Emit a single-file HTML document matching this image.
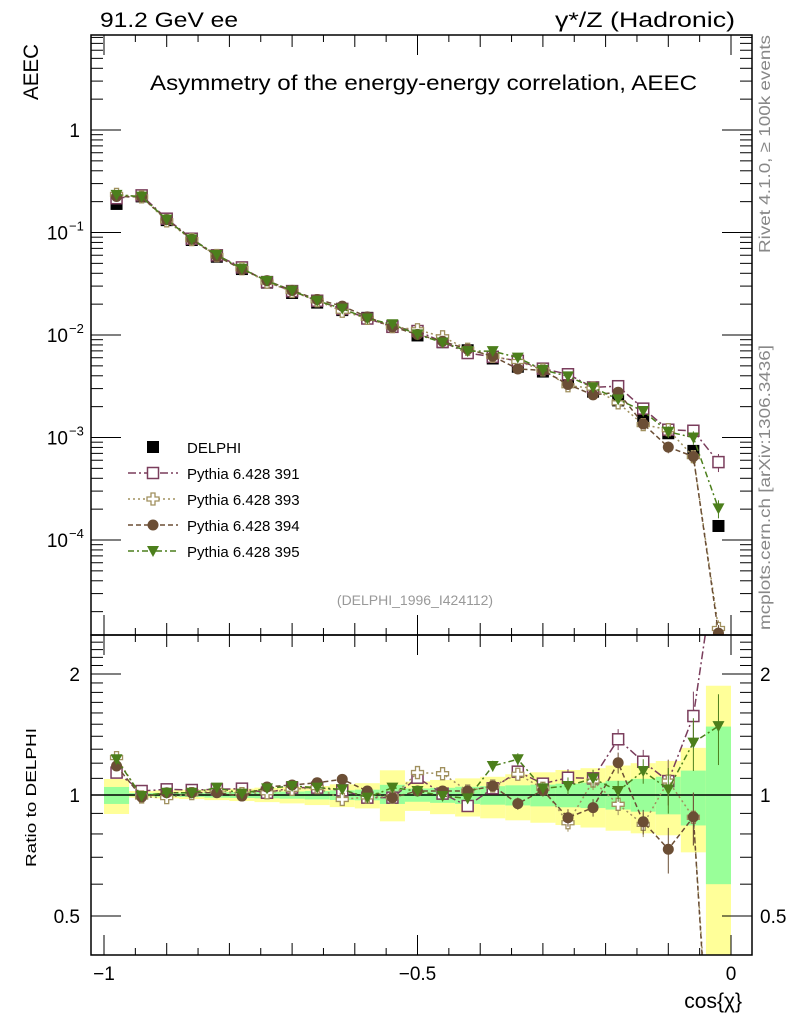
<!DOCTYPE html>
<html><head><meta charset="utf-8"><style>
html,body{margin:0;padding:0;background:#fff;overflow:hidden;width:786px;height:1024px;}
svg{display:block;}
svg text{font-family:"Liberation Sans",sans-serif;}
</style></head><body>
<svg id="c" width="786" height="1024" viewBox="0 0 786 1024" xmlns="http://www.w3.org/2000/svg">
<rect x="0" y="0" width="786" height="1024" fill="#fff"/>
<text x="100" y="27" font-size="21" textLength="138" lengthAdjust="spacingAndGlyphs">91.2 GeV ee</text>
<text x="555" y="27" font-size="21" textLength="180" lengthAdjust="spacingAndGlyphs">γ*/Z (Hadronic)</text>
<text transform="translate(38,100) rotate(-90)" font-size="21" textLength="56" lengthAdjust="spacingAndGlyphs">AEEC</text>
<text x="150" y="90" font-size="21" textLength="547" lengthAdjust="spacingAndGlyphs">Asymmetry of the energy-energy correlation, AEEC</text>
<text transform="translate(770,253) rotate(-90)" font-size="16" fill="#888" textLength="218" lengthAdjust="spacingAndGlyphs">Rivet 4.1.0, ≥ 100k events</text>
<text transform="translate(770,630) rotate(-90)" font-size="16" fill="#888" textLength="285" lengthAdjust="spacingAndGlyphs">mcplots.cern.ch [arXiv:1306.3436]</text>
<text x="415" y="605" font-size="14" fill="#999" text-anchor="middle">(DELPHI_1996_I424112)</text>
<text transform="translate(36,867) rotate(-90)" font-size="15" textLength="139" lengthAdjust="spacingAndGlyphs">Ratio to DELPHI</text>
<text x="742" y="1008" font-size="21" text-anchor="end">cos{χ}</text>
<g id="g"></g>
</svg>
<script>
const xCenters=[-0.98,-0.94,-0.90,-0.86,-0.82,-0.78,-0.74,-0.70,-0.66,-0.62,-0.58,-0.54,-0.50,-0.46,-0.42,-0.38,-0.34,-0.30,-0.26,-0.22,-0.18,-0.14,-0.10,-0.06,-0.02];
const delphi=[0.19,0.225,0.132,0.0845,0.058,0.044,0.0324,0.0257,0.0207,0.0175,0.0147,0.0122,0.0099,0.0085,0.0071,0.0059,0.0049,0.0044,0.00375,0.0028,0.0023,0.00158,0.0011,0.00074,0.000137];
const bandStatHi=[1.047,1.011,1.012,1.013,1.016,1.017,1.019,1.02,1.023,1.027,1.031,1.06,1.038,1.042,1.048,1.052,1.057,1.061,1.067,1.073,1.085,1.097,1.11,1.15,1.48];
const bandStatLo=[0.95,0.993,0.991,0.989,0.985,0.983,0.981,0.979,0.975,0.972,0.97,0.95,0.962,0.956,0.95,0.946,0.942,0.937,0.932,0.928,0.92,0.909,0.895,0.84,0.60];
const bandTotHi=[1.096,1.023,1.027,1.031,1.033,1.037,1.043,1.047,1.053,1.063,1.07,1.152,1.08,1.09,1.1,1.11,1.126,1.139,1.154,1.166,1.184,1.2,1.215,1.31,1.87];
const bandTotLo=[0.897,0.985,0.981,0.977,0.971,0.966,0.96,0.953,0.944,0.933,0.926,0.86,0.913,0.896,0.884,0.875,0.865,0.853,0.842,0.83,0.815,0.803,0.794,0.72,0.35];
const r391=[1.137,1.023,1.033,1.029,1.033,1.037,1.013,1.043,1.043,1.027,0.985,0.985,1.104,1.008,0.939,1.039,1.143,1.067,1.104,1.100,1.376,1.210,1.083,1.572,4.2];
const r393=[1.239,0.989,0.985,1.008,1.027,1.008,1.013,1.033,1.043,0.975,0.989,0.989,1.137,1.130,1.023,1.053,1.126,1.039,0.853,1.083,0.948,0.845,1.083,0.88,0.1];
const r394=[1.181,0.989,1.013,1.013,1.013,0.994,1.047,1.059,1.073,1.094,1.023,0.985,1.023,1.023,1.023,1.053,0.952,1.027,0.878,0.930,1.203,0.858,0.733,0.882,0.09];
const r395=[1.227,0.994,1.013,1.013,1.043,1.008,1.039,1.053,1.043,1.033,0.985,1.043,1.023,0.994,0.981,1.181,1.227,1.039,1.053,1.100,1.023,1.147,1.033,1.350,1.484];
const mcRelErr=[0.02,0.01,0.01,0.01,0.01,0.01,0.01,0.01,0.015,0.015,0.015,0.02,0.02,0.025,0.03,0.03,0.035,0.035,0.05,0.05,0.06,0.07,0.13,0.15,0.2];
const xTickLabels=["−1","−0.5","0"];const xTickVals=[-1,-0.5,0];

const NS="http://www.w3.org/2000/svg",G=document.getElementById('g');
const L=91,R=752,T=35,MB=635,RB=955;
const xs=v=>104+(v+1)*627;
const ys=v=>130-102.5*Math.log10(v);
const yr=v=>795-121*Math.log2(v);
function el(t,a,p){const e=document.createElementNS(NS,t);for(const k in a)e.setAttribute(k,a[k]);(p||G).appendChild(e);return e;}
for(let i=0;i<xCenters.length;i++){
 const x0=Math.max(L,xs(xCenters[i]-0.02)),x1=xs(xCenters[i]+0.02);
 const b=el('rect',{x:x0,y:yr(bandTotHi[i]),width:x1-x0,height:Math.min(RB,yr(bandTotLo[i]))-yr(bandTotHi[i]),fill:'#ffff99'});
 
 
 const s=el('rect',{x:x0,y:yr(bandStatHi[i]),width:x1-x0,height:Math.min(RB,yr(bandStatLo[i]))-yr(bandStatHi[i]),fill:'#99ff99'});
 
 
}
el('line',{x1:L,x2:R,y1:yr(1),y2:yr(1),stroke:'#000','stroke-width':1.5});
const defs=el('defs',{});
const cp1=el('clipPath',{id:'cm'},defs);el('rect',{x:L,y:T,width:R-L,height:MB-T},cp1);
const cp2=el('clipPath',{id:'cr'},defs);el('rect',{x:L,y:MB,width:R-L,height:RB-MB},cp2);
const gm=el('g',{'clip-path':'url(#cm)'}),gr=el('g',{'clip-path':'url(#cr)'});
const series=[
 {n:'pythia-391',r:r391,c:'#7a3d5c',d:'8,3,2,3',m:'osq'},
 {n:'pythia-393',r:r393,c:'#a0905e',d:'2,3',m:'cross'},
 {n:'pythia-394',r:r394,c:'#6b4e35',d:'5,3',m:'circ'},
 {n:'pythia-395',r:r395,c:'#4c7f1c',d:'6,3,2,3',m:'tri'}];
function marker(p,m,c,x,y){
 if(m==='osq')return el('rect',{x:x-5.5,y:y-5.5,width:11,height:11,fill:'#fff',stroke:c,'stroke-width':1.5},p);
 if(m==='cross')return el('path',{d:`M${x-2},${y-6}h4v4h4v4h-4v4h-4v-4h-4v-4h4z`,fill:'#fff',stroke:c,'stroke-width':1.3},p);
 if(m==='circ')return el('circle',{cx:x,cy:y,r:5.5,fill:c},p);
 if(m==='tri')return el('path',{d:`M${x-6},${y-5}h12l-6,11z`,fill:c},p);
 return el('rect',{x:x-6,y:y-6,width:12,height:12,fill:'#000'},p);
}
xCenters.forEach((xv,i)=>{const m=marker(gm,'sq','#000',xs(xv),ys(delphi[i]));
 
 });
series.forEach(s=>{
 const ptsM=xCenters.map((xv,i)=>[xs(xv),ys(delphi[i]*s.r[i])]);
 const ptsR=xCenters.map((xv,i)=>[xs(xv),yr(s.r[i])]);
 const l1=el('polyline',{points:ptsM.map(p=>p.join(',')).join(' '),fill:'none',stroke:s.c,'stroke-width':1.5,'stroke-dasharray':s.d},gm);
 
 
 const l2=el('polyline',{points:ptsR.map(p=>p.join(',')).join(' '),fill:'none',stroke:s.c,'stroke-width':1.5,'stroke-dasharray':s.d},gr);
 
 
 xCenters.forEach((xv,i)=>{
  const x=xs(xv),e=mcRelErr[i];
  el('line',{x1:x,x2:x,y1:ys(delphi[i]*s.r[i]*(1+e)),y2:ys(delphi[i]*s.r[i]*(1-e)),stroke:s.c,'stroke-width':1},gm);
  el('line',{x1:x,x2:x,y1:yr(s.r[i]*(1+e)),y2:yr(s.r[i]*(1-e)),stroke:s.c,'stroke-width':1},gr);
  const a=marker(gm,s.m,s.c,x,ptsM[i][1]);
  
  
  const b=marker(gr,s.m,s.c,x,ptsR[i][1]);
  
  
 });
});
[[T,MB],[MB,RB]].forEach(([a,b])=>el('rect',{x:L,y:a,width:R-L,height:b-a,fill:'none',stroke:'#000','stroke-width':1.5}));
for(let k=0;k<=20;k++){const v=-1+k*0.05,x=xs(v);const big=Math.abs(v*2-Math.round(v*2))<1e-6,med=k%2===0;
 const len=big?20:(med?12:7);
 [[MB,-1],[RB,-1],[T,1],[MB,1]].forEach(([y,d])=>el('line',{x1:x,x2:x,y1:y,y2:y+d*len,stroke:'#000','stroke-width':1}));}
xTickVals.forEach((v,i)=>{const t=el('text',{x:xs(v),y:980,'font-size':19,'text-anchor':'middle'});t.textContent=xTickLabels[i];
 
 });
for(let e=-5;e<=0;e++)for(let m=1;m<=9;m++){const v=m*Math.pow(10,e),y=ys(v);if(y<T||y>MB)continue;
 const len=m===1?30:12;el('line',{x1:L,x2:L+len,y1:y,y2:y,stroke:'#000'});el('line',{x1:R,x2:R-len,y1:y,y2:y,stroke:'#000'});}
const yLab=[[0,'1'],[-1,'10'],[-2,'10'],[-3,'10'],[-4,'10']];
yLab.forEach(([e,s])=>{const y=ys(Math.pow(10,e))+7;const t=el('text',{x:e===0?80:68,y:y,'font-size':19,'text-anchor':'end'});t.textContent=s;
 
 
 if(e<0){const u=el('text',{x:69,y:y-9,'font-size':13});u.textContent='−'+(-e);}});
for(let k=4;k<=25;k++){const v=k/10,y=yr(v);if(y<MB||y>RB)continue;const big=(k===5||k===10||k===20);const len=big?30:12;
 el('line',{x1:L,x2:L+len,y1:y,y2:y,stroke:'#000'});el('line',{x1:R,x2:R-len,y1:y,y2:y,stroke:'#000'});}
[[2,'2'],[1,'1'],[0.5,'0.5']].forEach(([v,s])=>{const y=yr(v)+7;
 const a=el('text',{x:80,y:y,'font-size':19,'text-anchor':'end'});a.textContent=s;
 
 
 const b=el('text',{x:760,y:y,'font-size':19});b.textContent=s;
 
 });
const leg=[['DELPHI','#000','sq',null],['Pythia 6.428 391','#7a3d5c','osq','8,3,2,3'],['Pythia 6.428 393','#a0905e','cross','2,3'],['Pythia 6.428 394','#6b4e35','circ','5,3'],['Pythia 6.428 395','#4c7f1c','tri','6,3,2,3']];
leg.forEach((l,i)=>{const y=447+i*26;const g=el('g',{});
 
 
 if(l[3])el('line',{x1:128,x2:178,y1:y,y2:y,stroke:l[1],'stroke-width':1.5,'stroke-dasharray':l[3]},g);
 marker(g,l[2],l[1],153,y);
 const t=el('text',{x:187,y:y+6,'font-size':15},g);t.textContent=l[0];});
</script>
</body></html>
